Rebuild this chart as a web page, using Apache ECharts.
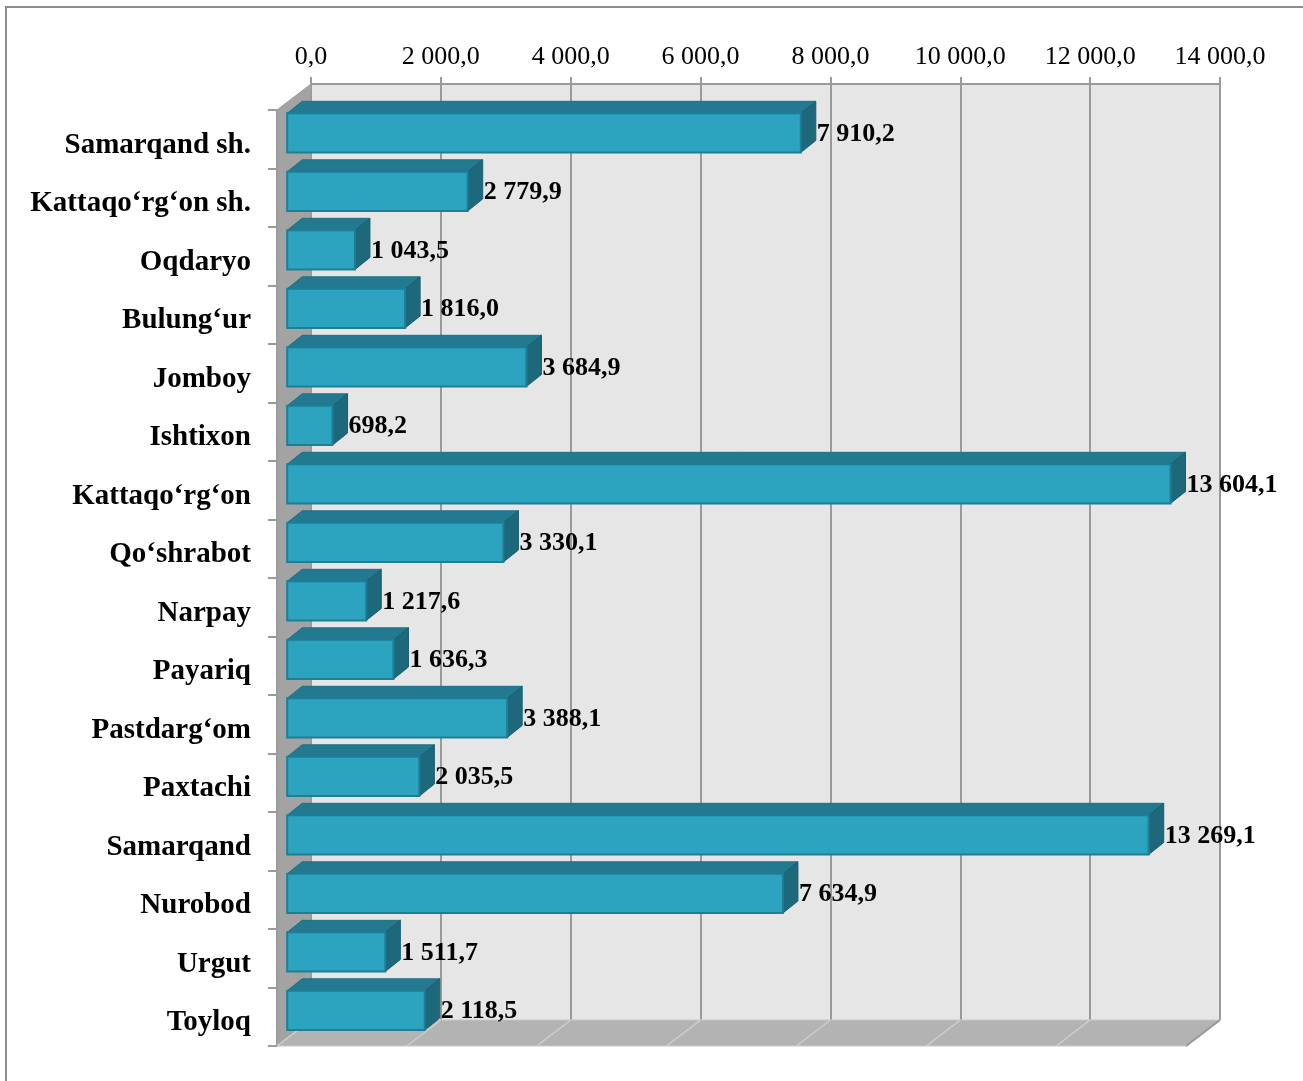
<!DOCTYPE html>
<html>
<head>
<meta charset="utf-8">
<script src="https://cdn.jsdelivr.net/npm/echarts@6/dist/echarts.min.js"></script>
<style>
html,body{margin:0;padding:0;background:#fff;}
#c{width:1303px;height:1081px;}
</style>
</head>
<body>
<div id="c"></div>
<script>
// ---- data ----
const categories = ['Samarqand sh.', 'Kattaqo‘rg‘on sh.', 'Oqdaryo', 'Bulung‘ur', 'Jomboy', 'Ishtixon', 'Kattaqo‘rg‘on', 'Qo‘shrabot', 'Narpay', 'Payariq', 'Pastdarg‘om', 'Paxtachi', 'Samarqand', 'Nurobod', 'Urgut', 'Toyloq'];
const values = [7910.2, 2779.9, 1043.5, 1816.0, 3684.9, 698.2, 13604.1, 3330.1, 1217.6, 1636.3, 3388.1, 2035.5, 13269.1, 7634.9, 1511.7, 2118.5];
const axisMin = 0;
const axisMax = 14000;
const axisStep = 2000;

// ---- layout ----
const FONT = "'Liberation Serif', 'Times New Roman', serif";
const BACK = {left: 311, top: 84, width: 909, height: 936};
const DEPTH = {dx: -34, dy: 26};        // back wall -> front plane
const BARF = 0.7;                       // depth fraction of bar front face
const BAR_DEPTH = {dx: 15, dy: -12};    // bar front -> bar back

function fmt(v) {
  const s = Number(v).toFixed(1);
  const parts = s.split('.');
  return parts[0].replace(/\B(?=(\d{3})+(?!\d))/g, ' ') + ',' + parts[1];
}

const chart = echarts.init(document.getElementById('c'), null, {renderer: 'canvas'});

const bl = BACK.left, bt = BACK.top, br = BACK.left + BACK.width, bb = BACK.top + BACK.height;
const graphics = [];
// outer frame
graphics.push({type: 'rect', shape: {x: 6, y: 7, width: 1400, height: 1200}, style: {fill: 'none', stroke: '#8c8c8c', lineWidth: 2}, z: 0});
// left wall
graphics.push({type: 'polygon', shape: {points: [[bl, bt], [bl, bb], [bl + DEPTH.dx, bb + DEPTH.dy], [bl + DEPTH.dx, bt + DEPTH.dy]]}, style: {fill: '#a3a3a3', stroke: '#9a9a9a', lineWidth: 1}, z: 2});
// floor
graphics.push({type: 'polygon', shape: {points: [[bl, bb], [br, bb], [br + DEPTH.dx, bb + DEPTH.dy], [bl + DEPTH.dx, bb + DEPTH.dy]]}, style: {fill: '#b3b3b3', stroke: '#c9c9c9', lineWidth: 1}, z: 2});
// floor gridlines
for (let t = axisMin; t <= axisMax; t += axisStep) {
  const x = bl + (t - axisMin) / (axisMax - axisMin) * BACK.width;
  graphics.push({type: 'line', shape: {x1: x, y1: bb, x2: x + DEPTH.dx, y2: bb + DEPTH.dy}, style: {stroke: '#cfcfcf', lineWidth: 1.5}, z: 3});
}
// right edge of floor
graphics.push({type: 'line', shape: {x1: br, y1: bb, x2: br + DEPTH.dx, y2: bb + DEPTH.dy}, style: {stroke: '#999', lineWidth: 2}, z: 3});

const barPlane = {left: BACK.left + DEPTH.dx * BARF, top: BACK.top + DEPTH.dy * BARF, width: BACK.width, height: BACK.height};
const frontPlane = {left: BACK.left + DEPTH.dx, top: BACK.top + DEPTH.dy, width: BACK.width, height: BACK.height};

const option = {
  animation: false,
  backgroundColor: '#fff',
  grid: [
    {left: BACK.left, top: BACK.top, width: BACK.width, height: BACK.height, show: true, backgroundColor: '#e6e6e6', borderWidth: 0, containLabel: false},
    {left: barPlane.left, top: barPlane.top, width: barPlane.width, height: barPlane.height, containLabel: false},
    {left: frontPlane.left, top: frontPlane.top, width: frontPlane.width, height: frontPlane.height, containLabel: false}
  ],
  xAxis: [
    {gridIndex: 0, type: 'value', position: 'top', min: axisMin, max: axisMax, interval: axisStep,
     axisLine: {show: true, lineStyle: {color: '#9a9a9a', width: 2}},
     axisTick: {show: true, inside: false, length: 7, lineStyle: {color: '#9a9a9a', width: 2}},
     splitLine: {show: true, lineStyle: {color: '#9a9a9a', width: 2}},
     axisLabel: {color: '#000', fontFamily: FONT, fontSize: 26, margin: 14, formatter: fmt}},
    {gridIndex: 1, type: 'value', min: axisMin, max: axisMax, show: false},
    {gridIndex: 2, type: 'value', min: axisMin, max: axisMax, show: false}
  ],
  yAxis: [
    {gridIndex: 0, type: 'category', data: categories, inverse: true, show: false},
    {gridIndex: 1, type: 'category', data: categories, inverse: true, show: false},
    {gridIndex: 2, type: 'category', data: categories, inverse: true,
     axisLine: {show: true, lineStyle: {color: '#9a9a9a', width: 2}},
     axisTick: {show: true, length: 9, lineStyle: {color: '#9a9a9a', width: 2}},
     splitLine: {show: false},
     axisLabel: {color: '#000', fontFamily: FONT, fontSize: 29, fontWeight: 'bold', margin: 26,
       formatter: function (v) { return '{l|' + v + '}'; },
       rich: {l: {fontFamily: FONT, fontSize: 29, fontWeight: 'bold', color: '#000', padding: [12, 0, 0, 0]}}}}
  ],
  graphic: {elements: graphics},
  series: [{
    type: 'custom',
    xAxisIndex: 1,
    yAxisIndex: 1,
    z: 10,
    data: values.map((v, i) => [v, i]),
    encode: {x: 0, y: 1},
    renderItem: function (params, api) {
      const v = api.value(0), idx = api.value(1);
      const p0 = api.coord([0, idx]);
      const p1 = api.coord([v, idx]);
      const band = api.size([0, 1])[1];
      const xL = p0[0], xR = p1[0];
      const yT = p0[1] - 0.31 * band;
      const yB = yT + 0.67 * band;
      const dx = BAR_DEPTH.dx, dy = BAR_DEPTH.dy;
      return {
        type: 'group',
        children: [
          {type: 'polygon', shape: {points: [[xL, yT], [xR, yT], [xR + dx, yT + dy], [xL + dx, yT + dy]]}, style: {fill: '#237a90', stroke: '#1f6f84', lineWidth: 1}},
          {type: 'polygon', shape: {points: [[xR, yT], [xR + dx, yT + dy], [xR + dx, yB + dy], [xR, yB]]}, style: {fill: '#1d687b', stroke: '#1a5e70', lineWidth: 1}},
          {type: 'rect', shape: {x: xL, y: yT, width: xR - xL, height: yB - yT}, style: {fill: '#2ca3bf', stroke: '#1e7e95', lineWidth: 2}},
          {type: 'text', x: xR + dx + 1, y: (yT + yB) / 2 + 1, style: {text: fmt(v), fill: '#000', font: 'bold 26px ' + FONT, verticalAlign: 'middle', align: 'left'}}
        ]
      };
    }
  }]
};
chart.setOption(option);
</script>
</body>
</html>
